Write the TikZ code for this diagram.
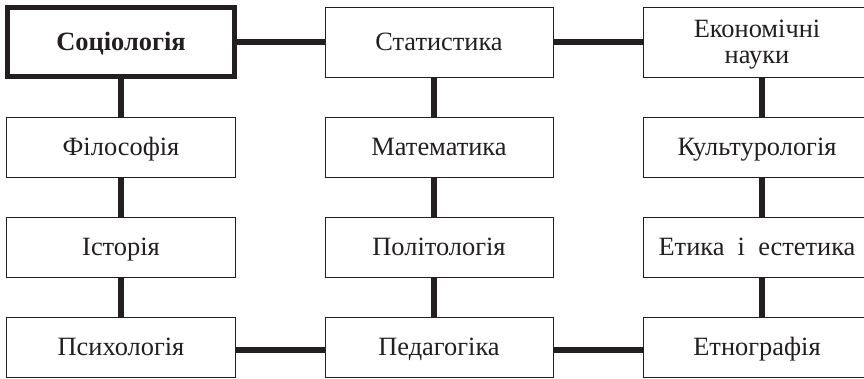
\documentclass[tikz,border=0pt]{standalone}
\usepackage{fontspec}
\setmainfont{Liberation Serif}
\definecolor{ink}{HTML}{231F20}
\begin{document}
\begin{tikzpicture}[x=1bp,y=-1bp,
  box/.style={draw=ink, line width=1bp, fill=white, minimum width=228bp, minimum height=60bp, inner sep=0pt, align=center, text=ink, font=\fontsize{26.5}{26}\selectfont, text height=17.5bp, text depth=0bp},
  tall/.style={minimum height=70bp},
  conn/.style={draw=ink, line width=6.5bp}]
\useasboundingbox (0,0) rectangle (864,378);
\begin{scope}
\clip (0,0) rectangle (864,378);
% boxes
\node[box, tall, line width=5bp, minimum width=227bp, minimum height=69bp, font=\fontsize{26.5}{26}\selectfont\bfseries] (soc) at (121,42) {Соціологія};
\node[box, tall] (stat) at (439,42) {Статистика};
\node[box, tall, text height=43.5bp] (econ) at (757,42) {Економічні\\науки};
\node[box] (phil) at (121,147) {Філософія};
\node[box] (math) at (439,147) {Математика};
\node[box] (cult) at (757,147) {Культурологія};
\node[box] (hist) at (121,247) {Історія};
\node[box] (pol) at (439,247) {Політологія};
\node[box] (eth) at (757,247) {Етика \ і \ естетика};
\node[box] (psy) at (121,347) {Психологія};
\node[box] (ped) at (439,347) {Педагогіка};
\node[box] (ethn) at (757,347) {Етнографія};
% connectors
\draw[conn] (soc.east) -- (stat.west);
\draw[conn] (stat.east) -- (econ.west);
\draw[conn] ([yshift=-3bp]psy.east) -- ([yshift=-3bp]ped.west);
\draw[conn] ([yshift=-3bp]ped.east) -- ([yshift=-3bp]ethn.west);
\draw[conn] (soc.south) -- (phil.north);
\draw[conn] (phil.south) -- (hist.north);
\draw[conn] (hist.south) -- (psy.north);
\draw[conn] ([xshift=-5bp]stat.south) -- ([xshift=-5bp]math.north);
\draw[conn] ([xshift=-5bp]math.south) -- ([xshift=-5bp]pol.north);
\draw[conn] ([xshift=-5bp]pol.south) -- ([xshift=-5bp]ped.north);
\draw[conn] ([xshift=5bp]econ.south) -- ([xshift=5bp]cult.north);
\draw[conn] ([xshift=5bp]cult.south) -- ([xshift=5bp]eth.north);
\draw[conn] ([xshift=5bp]eth.south) -- ([xshift=5bp]ethn.north);
\end{scope}
\end{tikzpicture}
\end{document}
